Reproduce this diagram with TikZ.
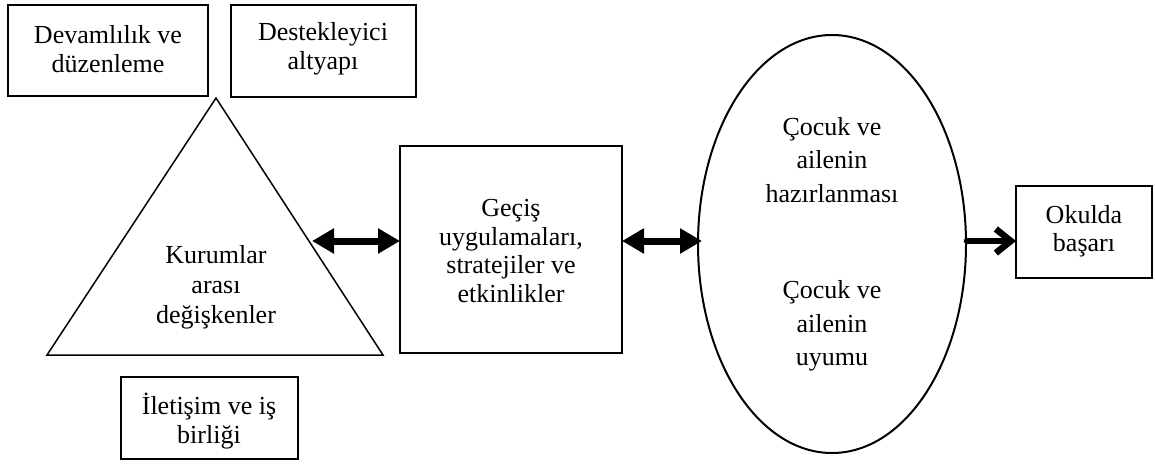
\documentclass[tikz,border=0pt]{standalone}
\usepackage{fontspec}
\setmainfont{Liberation Serif}
\usetikzlibrary{arrows.meta,shapes.geometric}
\begin{document}
\begin{tikzpicture}[x=1pt,y=-1pt,
  font=\fontsize{26}{28.5}\selectfont,
  boxframe/.style={draw,line width=2pt},
  lbl/.style={align=center,inner sep=0pt},
  wide/.style={font=\fontsize{26}{33.5}\selectfont},
  mid/.style={font=\fontsize{26}{30}\selectfont},
  dbl/.style={line width=7pt,{Triangle[length=22pt,width=24pt]}-{Triangle[length=22pt,width=24pt]}},
  fwd/.style={line width=6.5pt,-{Straight Barb[length=15pt,width=24pt]},line cap=round,line join=round}]
\useasboundingbox (0,0) rectangle (1155,463);

% top and bottom boxes around the triangle
\draw[boxframe] (8,5) rectangle (208,96);
\node[lbl] (dev) at (108,49) {Devamlılık ve\\düzenleme};
\draw[boxframe] (231,5) rectangle (416,97);
\node[lbl] (des) at (323,49) {Destekleyici\\altyapı};
\draw[boxframe] (121,377) rectangle (298,459);
\node[lbl] (ilt) at (209,421) {İletişim ve iş\\birliği};

% triangle of inter-institution variables
\draw[line width=1.5pt,line join=miter] (216,98) -- (383,355) -- (47,355) -- cycle;
\node[lbl,mid] (kur) at (216,287) {Kurumlar\\arası\\değişkenler};

% transition practices box
\draw[boxframe] (400,146) rectangle (622,353);
\coordinate (gL) at (400,241);
\coordinate (gR) at (622,241);
\node[lbl] (gec) at (511,251) {Geçiş\\uygulamaları,\\stratejiler ve\\etkinlikler};

% child and family ellipse
\node[draw,line width=2pt,ellipse,minimum width=268pt,minimum height=418pt,inner sep=0pt] (ell) at (832,244) {};
\node[lbl,wide] (haz) at (832,160) {Çocuk ve\\ailenin\\hazırlanması};
\node[lbl,wide] (uyu) at (832,326) {Çocuk ve\\ailenin\\uyumu};

% outcome box
\draw[boxframe] (1016,186) rectangle (1152,278);
\node[lbl] (oku) at (1084,231) {Okulda\\başarı};
\coordinate (oL) at (1016,241);

% connectors
\coordinate (t1) at (312,241);
\draw[dbl] (t1) -- (gL);
\coordinate (e1) at (702,241);
\draw[dbl] (gR) -- (e1);
\coordinate (e2) at (967,241);
\draw[fwd] (e2) -- (oL);
\end{tikzpicture}
\end{document}
